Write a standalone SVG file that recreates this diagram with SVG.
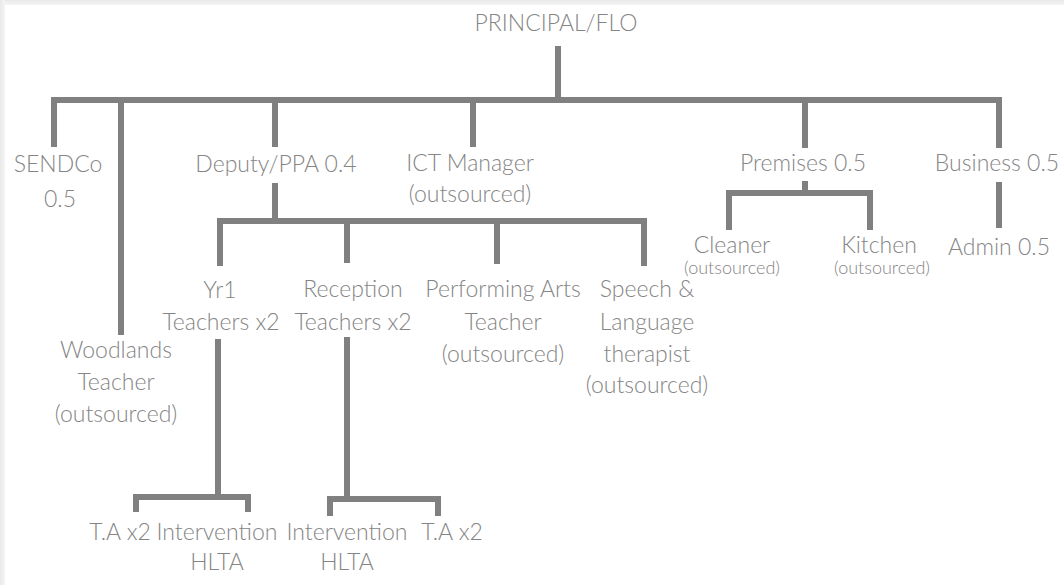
<svg xmlns="http://www.w3.org/2000/svg" width="1064" height="585" viewBox="0 0 1064 585">
  <defs>
    <linearGradient id="edgeTop" x1="0" y1="0" x2="0" y2="1">
      <stop offset="0" stop-color="#e9e9e9"/>
      <stop offset="1" stop-color="#f4f4f4"/>
    </linearGradient>
    <linearGradient id="edgeLeft" x1="0" y1="0" x2="1" y2="0">
      <stop offset="0" stop-color="#e9e9e9"/>
      <stop offset="1" stop-color="#f4f4f4"/>
    </linearGradient>
  </defs>
  <style>
    text { font-family: Lato, "Open Sans", "DejaVu Sans", sans-serif; font-weight: 300; fill: #858585; text-anchor: middle; }
    .t { font-size: 23px; }
    .s { font-size: 18px; }
    .ln { stroke: #808080; stroke-width: 6; fill: none; stroke-linecap: butt; stroke-linejoin: miter; }
  </style>

  <!-- page -->
  <rect width="1064" height="585" fill="#ffffff"/>
  <rect x="0" y="0" width="1064" height="5" fill="url(#edgeTop)"/>
  <rect x="0" y="0" width="5" height="585" fill="url(#edgeLeft)"/>

  <!-- connectors -->
  <g id="connectors" class="ln">
    <!-- principal to first tier -->
    <path d="M558 46 V100"/>
    <path d="M54 147 V100 H999 V148"/>
    <path d="M121 100 V335"/>
    <path d="M275 100 V147"/>
    <path d="M473 100 V147"/>
    <path d="M805 100 V148"/>
    <!-- deputy to teaching staff -->
    <path d="M275 183 V221"/>
    <path d="M220 266 V221 H644 V266"/>
    <path d="M347 221 V263"/>
    <path d="M497 221 V264"/>
    <!-- premises to cleaner / kitchen -->
    <path d="M805 181 V193"/>
    <path d="M729 230 V193 H870 V230"/>
    <!-- business to admin -->
    <path d="M999 182 V228"/>
    <!-- yr1 to assistants -->
    <path d="M218 339 V497"/>
    <path d="M136 512 V497 H248 V512"/>
    <!-- reception to assistants -->
    <path d="M347 337 V499"/>
    <path d="M330 516 V499 H438 V516"/>
  </g>

  <g id="principal"><text class="t" x="556" y="31">PRINCIPAL/FLO</text></g>

  <g id="sendco">
    <text class="t" x="58" y="172">SENDCo</text>
    <text class="t" x="60" y="207">0.5</text>
  </g>

  <g id="deputy"><text class="t" x="276" y="172">Deputy/PPA 0.4</text></g>

  <g id="ict">
    <text class="t" x="470" y="171">ICT Manager</text>
    <text class="t" x="470" y="202">(outsourced)</text>
  </g>

  <g id="premises"><text class="t" x="803" y="171">Premises 0.5</text></g>

  <g id="business"><text class="t" x="997" y="171">Business 0.5</text></g>

  <g id="cleaner">
    <text class="t" x="732" y="253">Cleaner</text>
    <text class="s" x="732" y="274">(outsourced)</text>
  </g>

  <g id="kitchen">
    <text class="t" x="879" y="253">Kitchen</text>
    <text class="s" x="882" y="274">(outsourced)</text>
  </g>

  <g id="admin"><text class="t" x="999" y="255">Admin 0.5</text></g>

  <g id="woodlands">
    <text class="t" x="116" y="358">Woodlands</text>
    <text class="t" x="116" y="390">Teacher</text>
    <text class="t" x="116" y="422">(outsourced)</text>
  </g>

  <g id="yr1">
    <text class="t" x="220" y="298">Yr1</text>
    <text class="t" x="221" y="330">Teachers x2</text>
  </g>

  <g id="reception">
    <text class="t" x="353" y="297">Reception</text>
    <text class="t" x="353" y="330">Teachers x2</text>
  </g>

  <g id="performing-arts">
    <text class="t" x="503" y="297">Performing Arts</text>
    <text class="t" x="503" y="330">Teacher</text>
    <text class="t" x="503" y="362">(outsourced)</text>
  </g>

  <g id="speech">
    <text class="t" x="647" y="297">Speech &amp;</text>
    <text class="t" x="647" y="330">Language</text>
    <text class="t" x="647" y="362">therapist</text>
    <text class="t" x="647" y="393">(outsourced)</text>
  </g>

  <g id="yr1-ta"><text class="t" x="120" y="540">T.A x2</text></g>

  <g id="yr1-hlta">
    <text class="t" x="217" y="540">Intervention</text>
    <text class="t" x="217" y="570">HLTA</text>
  </g>

  <g id="reception-hlta">
    <text class="t" x="347" y="540">Intervention</text>
    <text class="t" x="347" y="570">HLTA</text>
  </g>

  <g id="reception-ta"><text class="t" x="452" y="540">T.A x2</text></g>
</svg>
